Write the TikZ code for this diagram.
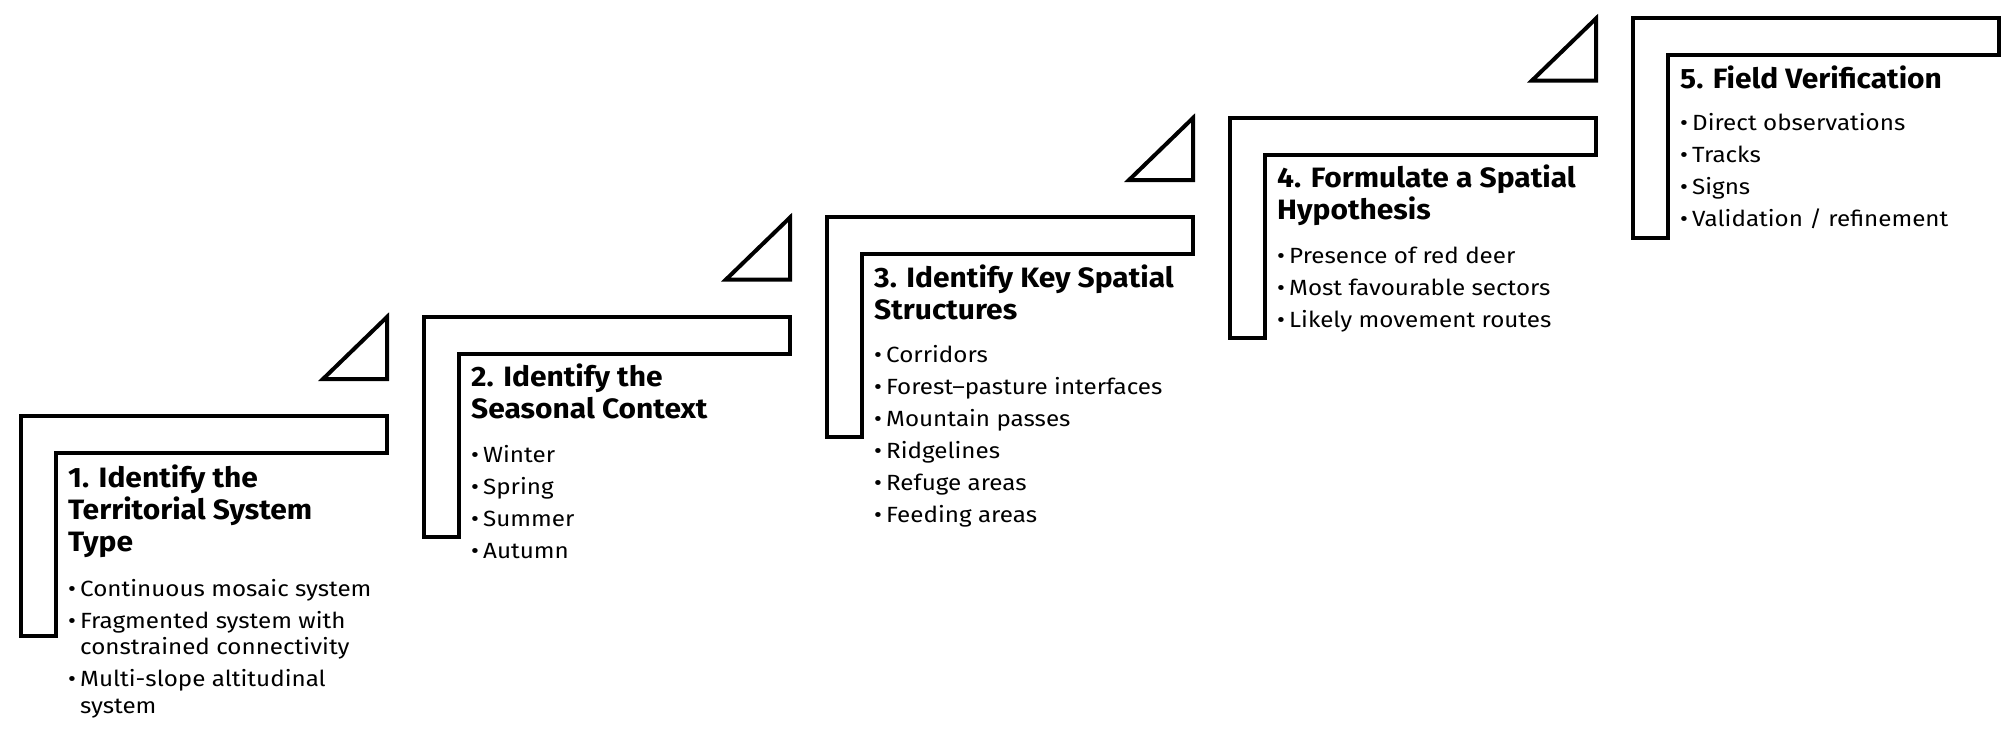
\documentclass[tikz,border=0pt]{standalone}
\usepackage{fontspec}
\setmainfont{Fira Sans}[FakeStretch=1.1]
\newfontfamily\ttlfont{Fira Sans}[FakeStretch=1.07]
\newcommand\bitem[1]{\par\hangindent=12pt\hangafter=1\noindent\makebox[12pt][l]{\textbullet}#1}
\newcommand\blist[1]{\parbox[t]{380pt}{\raggedright\parskip=5.5pt #1}}
\newcommand\tlist[1]{\parbox[t]{380pt}{\raggedright #1}}
\tikzset{
  lshape/.style={draw=black,line width=4pt,line join=miter},
  ttl/.style={anchor=base west,inner sep=0pt,font=\ttlfont\fontsize{28}{32}\selectfont\bfseries},
  bul/.style={anchor=base west,inner sep=0pt,font=\fontsize{22}{26.5}\selectfont},
}
\newcommand\stepshape{%
  \draw[lshape] (0,0) -- (366,0) -- (366,37) -- (35,37) -- (35,220) -- (0,220) -- cycle;
  \draw[lshape] (366,-99) -- (366,-37) -- (302,-37) -- cycle;
}
\begin{document}
\begin{tikzpicture}[x=1pt,y=-1pt]
\useasboundingbox[fill=white] (0,0) rectangle (2008,736);
\begin{scope}[shift={(21,416)}]
  \stepshape
  \node[ttl] (t1) at (47,71) {\tlist{1. Identify the\\Territorial System\\Type}};
  \node[bul] (b1) at (47,180) {\blist{\bitem{Continuous mosaic system}\bitem{Fragmented system with\newline constrained connectivity}\bitem{Multi-slope altitudinal\newline system}}};
\end{scope}
\begin{scope}[shift={(424,316.5)}]
  \stepshape
  \node[ttl] (t2) at (47,70) {\tlist{2. Identify the\\Seasonal Context}};
  \node[bul] (b2) at (47,145.5) {\blist{\bitem{Winter}\bitem{Spring}\bitem{Summer}\bitem{Autumn}}};
\end{scope}
\begin{scope}[shift={(827,217)}]
  \stepshape
  \node[ttl] (t3) at (47,70) {\tlist{3. Identify Key Spatial\\Structures}};
  \node[bul] (b3) at (47,145.5) {\blist{\bitem{Corridors}\bitem{Forest–pasture interfaces}\bitem{Mountain passes}\bitem{Ridgelines}\bitem{Refuge areas}\bitem{Feeding areas}}};
\end{scope}
\begin{scope}[shift={(1230,117.5)}]
  \stepshape
  \node[ttl] (t4) at (47,70) {\tlist{4. Formulate a Spatial\\Hypothesis}};
  \node[bul] (b4) at (47,145.5) {\blist{\bitem{Presence of red deer}\bitem{Most favourable sectors}\bitem{Likely movement routes}}};
\end{scope}
\begin{scope}[shift={(1633,18)}]
  \stepshape
  \node[ttl] (t5) at (47,70) {\tlist{5. Field Verification}};
  \node[bul] (b5) at (47,112) {\blist{\bitem{Direct observations}\bitem{Tracks}\bitem{Signs}\bitem{Validation / refinement}}};
\end{scope}
\end{tikzpicture}
\end{document}
